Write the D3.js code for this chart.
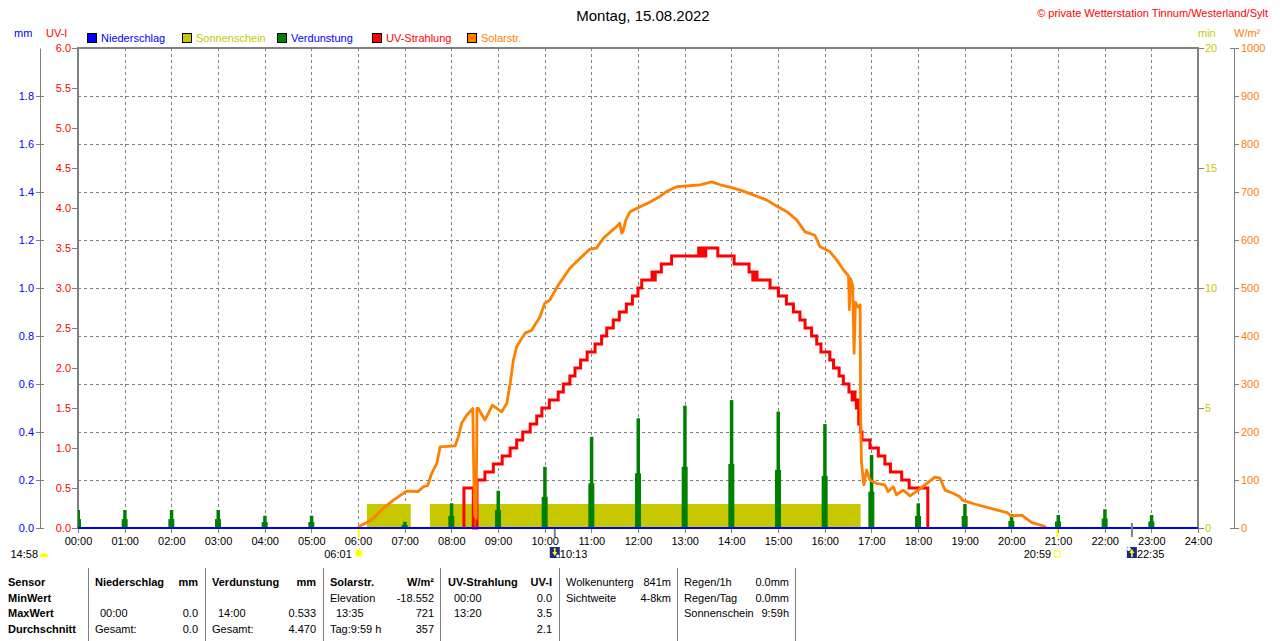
<!DOCTYPE html>
<html>
<head>
<meta charset="utf-8">
<script src="https://cdn.jsdelivr.net/npm/d3@7"></script>
<style>
body { margin: 0; background: #fff; }
svg { display: block; font-family: "Liberation Sans", Arial, sans-serif; }
</style>
</head>
<body>
<svg id="chart" width="1280" height="641"></svg>
<script>

// ---- data (time in decimal hours) ----
var hours = d3.range(0, 25);

// precipitation: nothing fell all day
var rainPoints = [[0, 0], [24, 0]];

// sunshine blocks (minutes of sun per minute)
var sunStart = [6.19, 7.54];
var sunEnd = [7.13, 16.77];
var sunValue = [1, 1];

// evaporation per hour (mm), tall spike and lower shoulder
var evapHours = d3.range(0, 24);
var evapPeak = [0.075, 0.075, 0.075, 0.075, 0.051, 0.051, 0, 0.026, 0.103, 0.155, 0.255, 0.38,
                0.457, 0.51, 0.533, 0.485, 0.433, 0.304, 0.103, 0.1, 0.058, 0.054, 0.078, 0.054];
var evapShoulder = [0.037, 0.037, 0.037, 0.037, 0.025, 0.025, 0, 0.013, 0.05, 0.075, 0.13, 0.186,
                    0.228, 0.255, 0.267, 0.242, 0.217, 0.151, 0.05, 0.05, 0.029, 0.027, 0.039, 0.027];

// UV index, step values (zero outside 08:16 - 18:13)
var uvPoints = [
    [8.27, 0], [8.27, 0.5], [8.47, 0], [8.55, 0.6], [8.72, 0.7], [8.9, 0.8], [9.09, 0.9], [9.26, 1.0],
    [9.4, 1.1], [9.53, 1.2], [9.69, 1.3], [9.83, 1.4], [9.94, 1.5], [10.1, 1.6], [10.29, 1.7],
    [10.4, 1.8], [10.54, 1.9], [10.65, 2.0], [10.77, 2.1], [10.91, 2.2], [11.08, 2.3], [11.22, 2.4],
    [11.33, 2.5], [11.47, 2.6], [11.6, 2.7], [11.75, 2.8], [11.88, 2.9], [12.0, 3.0], [12.08, 3.1],
    [12.3, 3.2], [12.34, 3.1], [12.37, 3.2], [12.5, 3.3], [12.72, 3.4], [13.3, 3.5], [13.34, 3.4],
    [13.37, 3.5], [13.42, 3.4], [13.45, 3.5], [13.71, 3.4], [14.06, 3.3], [14.38, 3.2], [14.46, 3.1],
    [14.5, 3.2], [14.55, 3.1], [14.83, 3.0], [15.01, 2.9], [15.18, 2.8], [15.33, 2.7], [15.47, 2.6],
    [15.58, 2.5], [15.72, 2.4], [15.83, 2.3], [15.92, 2.2], [16.11, 2.1], [16.19, 2.0], [16.31, 1.9],
    [16.4, 1.8], [16.52, 1.7], [16.59, 1.6], [16.62, 1.7], [16.65, 1.6], [16.68, 1.5], [16.7, 1.6],
    [16.73, 1.3], [16.77, 1.2], [16.8, 1.1], [16.97, 1.0], [17.15, 0.9], [17.29, 0.8], [17.41, 0.7],
    [17.65, 0.6], [17.81, 0.5], [18.21, 0]
];

// solar radiation W/m²
var solarPoints = [
    [6.0, 0], [6.04, 4], [6.2, 12], [6.33, 20], [6.54, 41], [6.76, 58], [6.97, 72], [7.04, 77],
    [7.29, 76], [7.4, 86], [7.49, 88], [7.58, 114], [7.69, 135], [7.76, 169], [8.08, 171],
    [8.15, 190], [8.22, 218], [8.33, 235], [8.46, 249], [8.48, 120], [8.5, 25], [8.53, 20],
    [8.55, 249], [8.58, 249], [8.72, 225], [8.88, 256], [9.08, 242], [9.19, 260], [9.26, 301],
    [9.33, 350], [9.4, 378], [9.58, 406], [9.72, 412], [9.9, 440], [10.0, 468], [10.11, 475],
    [10.29, 506], [10.54, 541], [10.76, 562], [10.97, 581], [11.11, 583], [11.26, 604],
    [11.54, 628], [11.61, 635], [11.65, 614], [11.68, 618], [11.74, 642], [11.83, 659],
    [12.04, 669], [12.26, 679], [12.44, 689], [12.61, 701], [12.83, 711], [13.11, 713],
    [13.33, 715], [13.58, 721], [13.76, 715], [13.97, 710], [14.19, 704], [14.47, 694],
    [14.76, 683], [14.97, 671], [15.19, 659], [15.4, 642], [15.58, 617], [15.79, 610],
    [15.9, 586], [16.11, 576], [16.26, 558], [16.4, 538], [16.51, 525], [16.53, 455],
    [16.55, 520], [16.6, 505], [16.63, 364], [16.66, 470], [16.72, 460], [16.76, 465],
    [16.77, 225], [16.79, 135], [16.84, 90], [16.9, 121], [16.97, 100], [17.11, 93],
    [17.29, 90], [17.36, 76], [17.47, 86], [17.54, 69], [17.68, 79], [17.83, 67], [18.01, 79],
    [18.15, 90], [18.36, 106], [18.47, 104], [18.58, 79], [18.76, 72], [18.9, 65], [18.95, 58],
    [19.21, 50], [19.56, 41], [19.91, 32], [20.0, 25], [20.22, 27], [20.44, 11], [20.7, 4],
    [20.75, 0]
];

// sun / moon events below the axis
var events = [
    {label: "14:58", t: null, type: "moonLeft"},
    {label: "06:01", t: 6 + 1 / 60, type: "sunrise"},
    {label: "10:13", t: 10 + 13 / 60, type: "moonset"},
    {label: "20:59", t: 20 + 59 / 60, type: "sunset"},
    {label: "22:35", t: 22 + 35 / 60, type: "moonrise"}
];

// legend
var legendNames = ["Niederschlag", "Sonnenschein", "Verdunstung", "UV-Strahlung", "Solarstr."];
var legendColors = ["#0000ff", "#c8c800", "#008000", "#ff0000", "#ff8000"];
var legendTextColors = ["#0000ff", "#c8c800", "#0000ff", "#ff0000", "#ff8000"];

// summary table
var tableRowNames = ["Sensor", "MinWert", "MaxWert", "Durchschnitt"];
var tableHeads = [["Niederschlag", "mm"], ["Verdunstung", "mm"], ["Solarstr.", "W/m²"],
                  ["UV-Strahlung", "UV-I"]];
var tableLeft = [
    ["", "00:00", "Gesamt:"],
    ["", "14:00", "Gesamt:"],
    ["Elevation", "13:35", "Tag:9:59 h"],
    ["00:00", "13:20", ""]
];
var tableRight = [
    ["", "0.0", "0.0"],
    ["", "0.533", "4.470"],
    ["-18.552", "721", "357"],
    ["0.0", "3.5", "2.1"]
];
var extraLeft = [["Wolkenunterg", "Sichtweite"], ["Regen/1h", "Regen/Tag", "Sonnenschein"]];
var extraRight = [["841m", "4-8km"], ["0.0mm", "0.0mm", "9:59h"]];

// ---- layout ----
var plotL = 78, plotR = 1198, plotT = 48, plotB = 528;
var gray = "#808080";
var fs = 11;

var svg = d3.select("#chart");

var x = d3.scaleLinear().domain([0, 24]).range([plotL, plotR]);
var yUV = d3.scaleLinear().domain([0, 6]).range([plotB, plotT]);
var yMM = d3.scaleLinear().domain([0, 2]).range([plotB, plotT]);
var yMin = d3.scaleLinear().domain([0, 20]).range([plotB, plotT]);
var ySol = d3.scaleLinear().domain([0, 1000]).range([plotB, plotT]);

svg.append("defs").append("clipPath").attr("id", "plotClip")
    .append("rect")
    .attr("x", plotL).attr("y", plotT - 2)
    .attr("width", plotR - plotL).attr("height", plotB - plotT + 4);

// title and copyright
svg.append("text")
    .attr("x", 643).attr("y", 21)
    .attr("text-anchor", "middle")
    .attr("font-size", 15)
    .text("Montag, 15.08.2022");

svg.append("text")
    .attr("x", 1268).attr("y", 17)
    .attr("text-anchor", "end")
    .attr("font-size", 11)
    .attr("fill", "#ff0000")
    .text("© private Wetterstation Tinnum/Westerland/Sylt");

// axis titles
svg.append("text").attr("x", 14).attr("y", 37).attr("font-size", fs).attr("fill", "#0000ff").text("mm");
svg.append("text").attr("x", 46).attr("y", 37).attr("font-size", fs).attr("fill", "#ff0000").text("UV-I");
svg.append("text").attr("x", 1198).attr("y", 37).attr("font-size", fs).attr("fill", "#c8c800").text("min");
svg.append("text").attr("x", 1234).attr("y", 37).attr("font-size", fs).attr("fill", "#ff8000").text("W/m²");

// legend
var legendX = [87, 182, 277, 372, 467];
var legend = svg.selectAll("g.legend")
    .data(legendNames)
    .enter().append("g")
    .attr("class", "legend")
    .attr("transform", function(d, i) { return "translate(" + legendX[i] + ",33)"; });

legend.append("rect")
    .attr("x", 0.5).attr("y", 0.5)
    .attr("width", 9).attr("height", 9)
    .attr("fill", function(d, i) { return legendColors[i]; })
    .attr("stroke", "#000");

legend.append("text")
    .attr("x", 14).attr("y", 9)
    .attr("font-size", fs)
    .attr("fill", function(d, i) { return legendTextColors[i]; })
    .text(function(d) { return d; });

// grid
var grid = svg.append("g")
    .attr("stroke", gray)
    .attr("stroke-dasharray", "3,3");

grid.selectAll("line.h")
    .data(d3.range(1, 10).map(function(i) { return i * 0.2; }))
    .enter().append("line")
    .attr("x1", plotL).attr("x2", plotR)
    .attr("y1", function(d) { return Math.round(yMM(d)) + 0.5; })
    .attr("y2", function(d) { return Math.round(yMM(d)) + 0.5; });

grid.selectAll("line.v")
    .data(d3.range(1, 24))
    .enter().append("line")
    .attr("x1", function(d) { return Math.round(x(d)) + 0.5; })
    .attr("x2", function(d) { return Math.round(x(d)) + 0.5; })
    .attr("y1", plotT).attr("y2", plotB);

// small hour ticks under the axis
svg.append("g").selectAll("line")
    .data(hours)
    .enter().append("line")
    .attr("x1", function(d) { return Math.round(x(d)) + 0.5; })
    .attr("x2", function(d) { return Math.round(x(d)) + 0.5; })
    .attr("y1", plotB).attr("y2", plotB + 5)
    .attr("stroke", gray);

// plot frame
svg.append("rect")
    .attr("x", plotL).attr("y", plotT)
    .attr("width", plotR - plotL).attr("height", plotB - plotT)
    .attr("fill", "none")
    .attr("stroke", gray)
    .attr("stroke-width", 2);

var plot = svg.append("g").attr("clip-path", "url(#plotClip)");

// sunshine
plot.selectAll("rect.sun")
    .data(sunStart)
    .enter().append("rect")
    .attr("class", "sun")
    .attr("x", function(d) { return x(d); })
    .attr("width", function(d, i) { return x(sunEnd[i]) - x(d); })
    .attr("y", function(d, i) { return yMin(sunValue[i]); })
    .attr("height", function(d, i) { return plotB - yMin(sunValue[i]); })
    .attr("fill", "#c8c800");

// evaporation
var evap = plot.selectAll("g.evap")
    .data(evapHours)
    .enter().append("g")
    .attr("class", "evap")
    .attr("fill", "#008000");

evap.append("rect")
    .attr("x", function(d) { return x(d) - 3; })
    .attr("width", 6)
    .attr("y", function(d, i) { return yMM(evapShoulder[i]); })
    .attr("height", function(d, i) { return plotB - yMM(evapShoulder[i]); });

evap.append("rect")
    .attr("x", function(d) { return x(d) - 1.5; })
    .attr("width", 3.5)
    .attr("y", function(d, i) { return yMM(evapPeak[i]); })
    .attr("height", function(d, i) { return plotB - yMM(evapPeak[i]); });

// UV
var uvLine = d3.line()
    .x(function(d) { return x(d[0]); })
    .y(function(d) { return yUV(d[1]); })
    .curve(d3.curveStepAfter);

plot.append("path")
    .datum(uvPoints)
    .attr("d", uvLine)
    .attr("fill", "none")
    .attr("stroke", "#ff0000")
    .attr("stroke-width", 3);

// solar
var solarLine = d3.line()
    .x(function(d) { return x(d[0]); })
    .y(function(d) { return ySol(d[1]); });

plot.append("path")
    .datum(solarPoints)
    .attr("d", solarLine)
    .attr("fill", "none")
    .attr("stroke", "#ff8000")
    .attr("stroke-width", 2.8)
    .attr("stroke-linejoin", "round");

// precipitation baseline
var rainLine = d3.line()
    .x(function(d) { return x(d[0]); })
    .y(function(d) { return yMM(d[1]); });

svg.append("path")
    .datum(rainPoints)
    .attr("d", rainLine)
    .attr("fill", "none")
    .attr("stroke", "#0000ff")
    .attr("stroke-width", 2);

// ---- axes ----
function styleAxis(g, color) {
    g.attr("font-family", null).attr("font-size", fs);
    g.selectAll("text").attr("fill", color);
    g.selectAll("line").attr("stroke", gray);
    g.selectAll("path.domain").attr("stroke", gray);
}

// mm axis (left, outer)
var mmAxis = svg.append("g")
    .attr("transform", "translate(40,0)")
    .call(d3.axisLeft(yMM)
        .tickValues(d3.range(0, 10).map(function(i) { return i * 0.2; }))
        .tickFormat(d3.format(".1f"))
        .tickSizeInner(4).tickSizeOuter(0).tickPadding(2));
styleAxis(mmAxis, "#0000ff");
mmAxis.selectAll(".tick line").attr("x1", 4);

// UV axis
var uvAxis = svg.append("g")
    .attr("transform", "translate(77,0)")
    .call(d3.axisLeft(yUV)
        .tickValues(d3.range(0, 13).map(function(i) { return i * 0.5; }))
        .tickFormat(d3.format(".1f"))
        .tickSize(5).tickPadding(1));
styleAxis(uvAxis, "#ff0000");
uvAxis.select("path.domain").remove();

// sunshine minutes axis
var minAxis = svg.append("g")
    .attr("transform", "translate(1199,0)")
    .call(d3.axisRight(yMin)
        .tickValues([0, 5, 10, 15, 20])
        .tickFormat(d3.format("d"))
        .tickSize(5).tickPadding(1));
styleAxis(minAxis, "#c8c800");
minAxis.select("path.domain").remove();

// solar axis
var solAxis = svg.append("g")
    .attr("transform", "translate(1234,0)")
    .call(d3.axisRight(ySol)
        .tickValues(d3.range(0, 11).map(function(i) { return i * 100; }))
        .tickFormat(d3.format("d"))
        .tickSizeInner(5).tickSizeOuter(0).tickPadding(2));
styleAxis(solAxis, "#ff8000");
solAxis.selectAll("line.cap")
    .data([0, 1000])
    .enter().append("line")
    .attr("x1", -4).attr("x2", 4)
    .attr("y1", function(d) { return ySol(d) + 0.5; })
    .attr("y2", function(d) { return ySol(d) + 0.5; })
    .attr("stroke", gray);

// time axis labels
var timeAxis = svg.append("g")
    .attr("transform", "translate(0," + plotB + ")")
    .call(d3.axisBottom(x)
        .tickValues(hours)
        .tickFormat(function(d) { return d3.format("02d")(d) + ":00"; })
        .tickSize(0).tickPadding(9));
styleAxis(timeAxis, "#000");
timeAxis.select("path.domain").remove();

// ---- sun and moon events ----
var ev = svg.append("g");

events.forEach(function(e) {
    var ex = e.t === null ? 44 : x(e.t);
    if (e.type === "sunrise" || e.type === "sunset") {
        ev.append("line")
            .attr("x1", ex).attr("x2", ex)
            .attr("y1", plotB + 1).attr("y2", plotB + 9)
            .attr("stroke", "#ffff00").attr("stroke-width", 2);
    }
    if (e.type === "moonset" || e.type === "moonrise") {
        ev.append("line")
            .attr("x1", ex).attr("x2", ex)
            .attr("y1", e.type === "moonrise" ? plotB - 5 : plotB + 1)
            .attr("y2", plotB + 9)
            .attr("stroke", gray).attr("stroke-width", 2);
    }

    if (e.type === "moonLeft") {
        ev.append("path")
            .attr("d", "M" + (ex - 4) + ",557 A4,4 0 0 1 " + (ex + 4) + ",557 Z")
            .attr("fill", "#ffff00");
        ev.append("text").attr("x", ex - 6).attr("y", 558)
            .attr("text-anchor", "end").attr("font-size", fs).text(e.label);
    } else if (e.type === "sunrise") {
        ev.append("circle").attr("cx", ex).attr("cy", 553).attr("r", 4.5)
            .attr("fill", "#ffff99");
        ev.append("circle").attr("cx", ex).attr("cy", 553).attr("r", 3)
            .attr("fill", "#ffff00");
        ev.append("text").attr("x", ex - 7).attr("y", 558)
            .attr("text-anchor", "end").attr("font-size", fs).text(e.label);
    } else if (e.type === "sunset") {
        ev.append("rect").attr("x", ex - 3).attr("y", 551).attr("width", 6).attr("height", 6)
            .attr("fill", "none").attr("stroke", "#ffff00");
        ev.append("text").attr("x", ex - 6).attr("y", 558)
            .attr("text-anchor", "end").attr("font-size", fs).text(e.label);
    } else {
        ev.append("rect").attr("x", ex - 5).attr("y", 547).attr("width", 10).attr("height", 11)
            .attr("fill", "#1a2a8c");
        if (e.type === "moonset") {
            ev.append("path")
                .attr("d", "M" + (ex - 2.5) + ",552 L" + (ex + 2.5) + ",552 L" + ex + ",556 Z M" +
                    (ex - 0.8) + ",548 h1.6 v4 h-1.6 Z")
                .attr("fill", "#ffff00");
            ev.append("circle").attr("cx", ex + 3).attr("cy", 556).attr("r", 1.5).attr("fill", "#fff");
        } else {
            ev.append("path")
                .attr("d", "M" + (ex - 2.5) + ",553 L" + (ex + 2.5) + ",553 L" + ex + ",549 Z M" +
                    (ex - 0.8) + ",553 h1.6 v4 h-1.6 Z")
                .attr("fill", "#ffff00");
            ev.append("circle").attr("cx", ex - 3).attr("cy", 549).attr("r", 2).attr("fill", "#fff");
        }
        ev.append("text").attr("x", ex + 5).attr("y", 558)
            .attr("font-size", fs).text(e.label);
    }
});

// ---- summary table ----
var rowY = [586, 602, 617, 633];
var sepX = [88.5, 205.5, 323.5, 440.5, 559.5, 677.5, 795.5];
var colStart = [95, 212, 330, 448];
var colEnd = [198, 316, 434, 552];
var colIndent = [5, 6, 6, 6];

var table = svg.append("g").attr("font-size", fs);

table.selectAll("line.sep")
    .data(sepX)
    .enter().append("line")
    .attr("x1", function(d) { return d; }).attr("x2", function(d) { return d; })
    .attr("y1", 568).attr("y2", 641)
    .attr("stroke", gray);

table.selectAll("text.rowname")
    .data(tableRowNames)
    .enter().append("text")
    .attr("x", 8)
    .attr("y", function(d, i) { return rowY[i]; })
    .attr("font-weight", "bold")
    .text(function(d) { return d; });

tableHeads.forEach(function(h, c) {
    table.append("text").attr("x", colStart[c]).attr("y", rowY[0])
        .attr("font-weight", "bold").text(h[0]);
    table.append("text").attr("x", colEnd[c]).attr("y", rowY[0])
        .attr("text-anchor", "end").attr("font-weight", "bold").text(h[1]);
    tableLeft[c].forEach(function(t, r) {
        var indent = (t.indexOf(":") === 2) ? colIndent[c] : 0;
        table.append("text").attr("x", colStart[c] + indent).attr("y", rowY[r + 1]).text(t);
    });
    tableRight[c].forEach(function(t, r) {
        table.append("text").attr("x", colEnd[c]).attr("y", rowY[r + 1])
            .attr("text-anchor", "end").text(t);
    });
});

var extraStart = [566, 684];
var extraEnd = [671, 789];
extraLeft.forEach(function(col, c) {
    col.forEach(function(t, r) {
        table.append("text").attr("x", extraStart[c]).attr("y", rowY[r]).text(t);
        table.append("text").attr("x", extraEnd[c]).attr("y", rowY[r])
            .attr("text-anchor", "end").text(extraRight[c][r]);
    });
});

</script>
</body>
</html>
